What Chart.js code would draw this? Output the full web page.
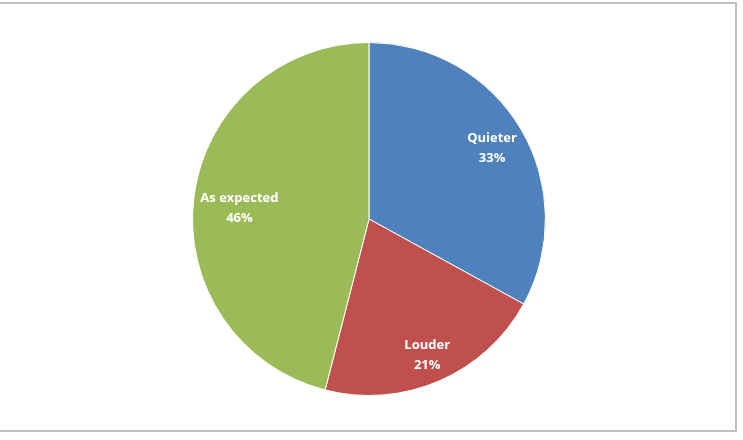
<!DOCTYPE html>
<html>
<head>
<meta charset="utf-8">
<script src="https://cdn.jsdelivr.net/npm/chart.js@4.4.0/dist/chart.umd.min.js"></script>
<style>
  html, body { margin: 0; padding: 0; background: #fff; }
  #wrap { position: relative; width: 743px; height: 440px; overflow: hidden; }
  #frame {
    position: absolute; left: -2px; top: 2px; width: 739px; height: 430px;
    border: 2px solid #c0c0c0; box-sizing: border-box; pointer-events: none;
  }
  canvas { position: absolute; left: 0; top: 0; }
</style>
</head>
<body>
<div id="wrap">
  <canvas id="pieChart" width="743" height="440"></canvas>
  <div id="frame"></div>
</div>
<script>
// chart data
const categories = ["Quieter", "Louder", "As expected"];
const shares = [33, 21, 46];
const sliceColors = ["#4F81BD", "#C0504D", "#9BBB59"];

// how far out (fraction of radius) each label sits, like Excel's best fit
const labelRadius = [0.81, 0.83, 0.74];

// draws the "name / pct" labels inside each slice
const sliceLabels = {
  id: "sliceLabels",
  afterDatasetsDraw(chart) {
    const ctx = chart.ctx;
    const meta = chart.getDatasetMeta(0);
    ctx.save();
    ctx.fillStyle = "#ffffff";
    ctx.font = "bold 13px 'Open Sans', 'Liberation Sans', sans-serif";
    ctx.textAlign = "center";
    ctx.textBaseline = "middle";
    meta.data.forEach((arc, i) => {
      const mid = (arc.startAngle + arc.endAngle) / 2;
      const r = arc.outerRadius * labelRadius[i];
      const x = arc.x + Math.cos(mid) * r;
      const y = arc.y + Math.sin(mid) * r + (i === 2 ? 6 : 2);
      ctx.fillText(categories[i], x, y - 10);
      ctx.fillText(shares[i] + "%", x, y + 10);
    });
    ctx.restore();
  },
};

const pieCtx = document.getElementById("pieChart").getContext("2d");
const pieChart = new Chart(pieCtx, {
  type: "pie",
  data: {
    labels: categories,
    datasets: [
      {
        data: shares,
        backgroundColor: sliceColors,
        borderColor: "#ffffff",
        borderWidth: 1,
      },
    ],
  },
  options: {
    responsive: false,
    animation: false,
    layout: {
      padding: { top: 42, bottom: 44, left: 0, right: 5 },
    },
    plugins: {
      legend: { display: false },
      tooltip: { enabled: false },
    },
  },
  plugins: [sliceLabels],
});
</script>
</body>
</html>
